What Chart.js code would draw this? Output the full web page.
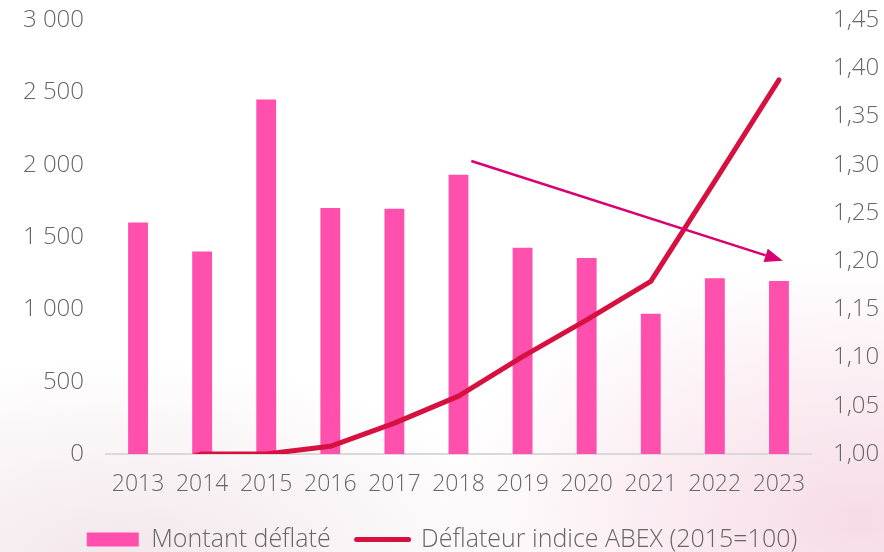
<!DOCTYPE html>
<html lang="fr">
<head>
<meta charset="UTF-8">
<title>Montant déflaté et déflateur ABEX</title>
<script src="https://cdn.jsdelivr.net/npm/chart.js"></script>
<style>
    html, body {
        margin: 0;
        padding: 0;
        width: 884px;
        height: 552px;
        overflow: hidden;
    }
    body {
        background:
            radial-gradient(ellipse 420px 260px at 860px 520px, rgba(240, 190, 210, 0.55), rgba(255, 255, 255, 0) 100%),
            radial-gradient(ellipse 420px 200px at 120px 560px, rgba(235, 215, 222, 0.6), rgba(255, 255, 255, 0) 100%),
            #ffffff;
        font-family: "Open Sans", sans-serif;
    }
    #chart-container {
        position: relative;
        width: 884px;
        height: 552px;
    }
</style>
</head>
<body>
<div id="chart-container">
    <canvas id="myChart"></canvas>
</div>
<script>
    // Données
    const years = ['2013', '2014', '2015', '2016', '2017', '2018', '2019', '2020', '2021', '2022', '2023'];
    const montantDeflate = [1600, 1400, 2450, 1700, 1695, 1930, 1425, 1355, 970, 1215, 1195];
    const deflateurAbex = [0.983, 1.00, 1.00, 1.008, 1.032, 1.06, 1.101, 1.139, 1.179, 1.283, 1.388];

    // Flèche de tendance (index catégorie, valeur axe gauche)
    const arrowFrom = { x: 5.2, y: 2025 };
    const arrowTo = { x: 10.06, y: 1335 };

    const xFont = { family: '"Open Sans", sans-serif', size: 23, weight: 300 };
    const yFont = { family: '"Open Sans", sans-serif', size: 24, weight: 300 };
    const legendFont = { family: '"Open Sans", sans-serif', size: 25, weight: 300 };
    const greyText = '#666666';

    const arrowPlugin = {
        id: 'trendArrow',
        afterDatasetsDraw(chart) {
            const xs = chart.scales.x;
            const ys = chart.scales.y;
            const x1 = xs.getPixelForValue(arrowFrom.x);
            const y1 = ys.getPixelForValue(arrowFrom.y);
            const x2 = xs.getPixelForValue(arrowTo.x);
            const y2 = ys.getPixelForValue(arrowTo.y);
            const ang = Math.atan2(y2 - y1, x2 - x1);
            const headLen = 18, headW = 7;
            const c = chart.ctx;
            c.save();
            c.strokeStyle = '#d9006f';
            c.fillStyle = '#d9006f';
            c.lineWidth = 2.5;
            c.beginPath();
            c.moveTo(x1, y1);
            c.lineTo(x2 - headLen * Math.cos(ang), y2 - headLen * Math.sin(ang));
            c.stroke();
            c.beginPath();
            c.moveTo(x2, y2);
            c.lineTo(x2 - headLen * Math.cos(ang) + headW * Math.sin(ang), y2 - headLen * Math.sin(ang) - headW * Math.cos(ang));
            c.lineTo(x2 - headLen * Math.cos(ang) - headW * Math.sin(ang), y2 - headLen * Math.sin(ang) + headW * Math.cos(ang));
            c.closePath();
            c.fill();
            c.restore();
        }
    };

    // largeur fixe des axes verticaux, sans marge haute/basse liée aux étiquettes
    function fixVertical(width) {
        return scale => {
            scale.width = width;
            scale.paddingTop = 0;
            scale.paddingBottom = 0;
        };
    }

    const ctx = document.getElementById('myChart').getContext('2d');
    const myChart = new Chart(ctx, {
        type: 'bar',
        data: {
            labels: years,
            datasets: [
                {
                    type: 'bar',
                    label: 'Montant déflaté',
                    data: montantDeflate,
                    backgroundColor: '#ff50ae',
                    borderWidth: 0,
                    barPercentage: 0.31,
                    categoryPercentage: 1,
                    yAxisID: 'y',
                    order: 2,
                    pointStyle: 'rect'
                },
                {
                    type: 'line',
                    label: 'Déflateur indice ABEX (2015=100)',
                    data: deflateurAbex,
                    borderColor: '#d6103f',
                    backgroundColor: '#d6103f',
                    borderWidth: 5,
                    borderCapStyle: 'round',
                    borderJoinStyle: 'round',
                    tension: 0,
                    pointRadius: 0,
                    pointHoverRadius: 0,
                    pointStyle: 'line',
                    pointBorderColor: '#d6103f',
                    pointBorderWidth: 5,
                    fill: false,
                    yAxisID: 'y1',
                    order: 1
                }
            ]
        },
        options: {
            responsive: true,
            maintainAspectRatio: false,
            animation: false,
            layout: {
                padding: { top: 20, left: 0, right: 0, bottom: -10 }
            },
            scales: {
                x: {
                    grid: { display: false, drawTicks: false },
                    border: { display: true, color: '#d9d9d9', width: 2 },
                    ticks: { font: xFont, color: greyText, padding: 17, maxRotation: 0 },
                    afterFit(scale) { scale.height = 47; }
                },
                y: {
                    position: 'left',
                    min: 0,
                    max: 3000,
                    grid: { display: false, drawTicks: false },
                    border: { display: false },
                    ticks: {
                        stepSize: 500,
                        font: yFont,
                        color: greyText,
                        padding: 22,
                        callback: v => String(v).replace(/\B(?=(\d{3})+(?!\d))/g, ' ')
                    },
                    afterFit: fixVertical(106)
                },
                y1: {
                    position: 'right',
                    min: 1.0,
                    max: 1.45,
                    grid: { display: false, drawTicks: false },
                    border: { display: false },
                    ticks: {
                        stepSize: 0.05,
                        font: yFont,
                        color: greyText,
                        padding: 22,
                        callback: v => Number(v).toFixed(2).replace('.', ',')
                    },
                    afterFit: fixVertical(73)
                }
            },
            plugins: {
                legend: {
                    display: true,
                    position: 'bottom',
                    labels: {
                        font: legendFont,
                        color: greyText,
                        usePointStyle: true,
                        pointStyleWidth: 52,
                        boxHeight: 14,
                        padding: 26,
                        sort: (a, b) => a.datasetIndex - b.datasetIndex,
                        generateLabels(chart) {
                            const items = Chart.defaults.plugins.legend.labels.generateLabels(chart);
                            items.forEach(it => {
                                if (it.datasetIndex === 1) {
                                    it.lineCap = 'round';
                                    it.lineWidth = 5;
                                    it.strokeStyle = '#d6103f';
                                }
                            });
                            return items;
                        }
                    }
                },
                tooltip: { enabled: false }
            }
        },
        plugins: [arrowPlugin]
    });
</script>
</body>
</html>
